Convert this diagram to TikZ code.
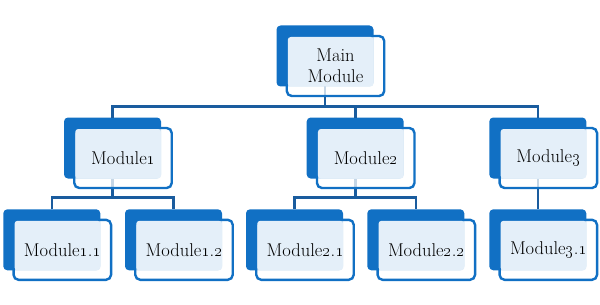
\documentclass[tikz,border=0pt]{standalone}
\usetikzlibrary{calc}
\definecolor{dkblue}{HTML}{1170C4}
\definecolor{lnblue}{HTML}{1A5C9E}
\definecolor{ltblue}{HTML}{E4EFF9}
\begin{document}
\begin{tikzpicture}[x=1pt,y=-1pt,
  darkbox/.style={fill=dkblue, draw=none, rounded corners=4pt, minimum width=97pt, minimum height=61pt, inner sep=0pt, outer sep=0pt},
  whitebox/.style={draw=dkblue, line width=2.4pt, fill=white, fill opacity=0.75, rounded corners=5pt, minimum width=97.5pt, minimum height=60pt, inner sep=0pt},
  lightbox/.style={fill=ltblue, rounded corners=3pt},
  txt/.style={font=\fontsize{18.5}{21}\selectfont, align=center, text=black, inner sep=0pt},
  conn/.style={draw=lnblue, line width=2.6pt}]
\useasboundingbox (0,0) rectangle (600,305);
% dark back boxes
\node[darkbox] (dm) at (325,56) {};
\node[darkbox] (d1) at (112.5,148) {};
\node[darkbox] (d2) at (355.2,148) {};
\node[darkbox] (d3) at (537.8,148) {};
\node[darkbox] (d11) at (51.8,239.8) {};
\node[darkbox] (d12) at (173.5,239.8) {};
\node[darkbox] (d21) at (294.5,239.8) {};
\node[darkbox] (d22) at (415.8,239.8) {};
\node[darkbox] (d31) at (537.8,239.8) {};
% connectors
\coordinate (b0) at (325,106.5);
\coordinate (b1) at (112.5,197.5);
\coordinate (b2) at (355.2,197.5);
\draw[conn] (dm.south) -- (b0);
\draw[conn] (d1.north) |- (b0) -| (d3.north);
\draw[conn] (b0 -| d2.north) -- (d2.north);
\draw[conn] (d1.south) -- (b1);
\draw[conn] (d11.north) |- (b1) -| (d12.north);
\draw[conn] (d2.south) -- (b2);
\draw[conn] (d21.north) |- (b2) -| (d22.north);
\draw[conn] (d3.south) -- (d31.north);
% front boxes
\foreach \n in {m,1,2,3,11,12,21,22,31}{
  \node[whitebox] (w\n) at ([shift={(10.5,10)}]d\n.center) {};
  \fill[lightbox] ([shift={(2.2,2.2)}]w\n.north west) rectangle (d\n.south east);
}
% texts
\node[txt] (tm) at (wm.center) {Main\\Module};
\node[txt] (t1) at (w1.center) {Module\oldstylenums{1}};
\node[txt] (t2) at (w2.center) {Module\oldstylenums{2}};
\node[txt] (t3) at (w3.center) {Module\oldstylenums{3}};
\node[txt] (t11) at (w11.center) {Module\oldstylenums{1}.\oldstylenums{1}};
\node[txt] (t12) at (w12.center) {Module\oldstylenums{1}.\oldstylenums{2}};
\node[txt] (t21) at (w21.center) {Module\oldstylenums{2}.\oldstylenums{1}};
\node[txt] (t22) at (w22.center) {Module\oldstylenums{2}.\oldstylenums{2}};
\node[txt] (t31) at (w31.center) {Module\oldstylenums{3}.\oldstylenums{1}};
\end{tikzpicture}
\end{document}
